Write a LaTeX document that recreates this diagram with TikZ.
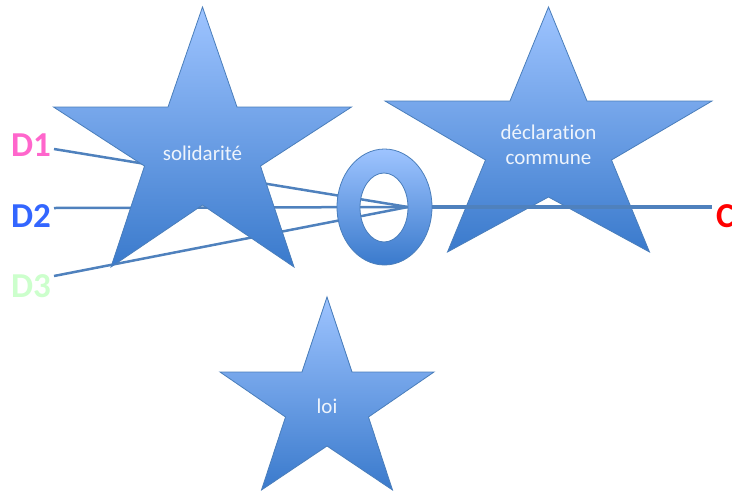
\documentclass[tikz,border=0pt]{standalone}
\usepackage{fontspec}
\setmainfont[Ligatures=NoCommon]{Carlito}
\definecolor{startop}{RGB}{158,196,255}
\definecolor{starbot}{RGB}{58,122,204}
\definecolor{starline}{RGB}{74,126,187}
\definecolor{conn}{RGB}{79,129,189}
\definecolor{startext}{RGB}{238,244,252}
\definecolor{dpink}{RGB}{255,102,204}
\definecolor{dblue}{RGB}{51,102,255}
\definecolor{dgreen}{RGB}{204,255,204}
\begin{document}
\begin{tikzpicture}[x=1pt,y=-1pt,
  starshape/.style={top color=startop,bottom color=starbot,draw=starline,line width=0.8pt,line join=miter},
  startxt/.style={text=startext,font=\fontsize{21}{25}\selectfont,align=center,inner sep=0pt},
  lbl/.style={font=\fontsize{35}{35}\selectfont\bfseries,anchor=base west,inner sep=0pt},
  dline/.style={draw=conn,line width=2.5pt},
  cline/.style={draw=conn,line width=3.8pt}]
\useasboundingbox (0,0) rectangle (732,491);
% labels
\node[lbl,text=dpink] (D1) at (11,156) {D1};
\node[lbl,text=dblue] (D2) at (11,227) {D2};
\node[lbl,text=dgreen] (D3) at (11,297) {D3};
\node[lbl,text=red] (C) at (716,227) {C};
% connector end points
\coordinate (d1s) at (54,149);
\coordinate (d2s) at (54,208);
\coordinate (d3s) at (54,276);
\coordinate (hub) at (408,207);
\coordinate (ce) at (712,207);
% D connectors (behind the first star)
\draw[dline] (d1s) -- (hub);
\draw[dline] (d2s) -- (hub);
\draw[dline] (d3s) -- (hub);
% star 1
\shade[starshape] (202.5,7) -- (237,107) -- (351.5,107) -- (260.5,166) -- (294,267)
  -- (202.5,205) -- (111,267) -- (144.5,166) -- (53.5,107) -- (168,107) -- cycle;
\node[startxt] (s1) at (202.5,153) {solidarité};
% star 2
\shade[starshape] (548.5,7) -- (587,101) -- (712,101) -- (611.5,160) -- (649.5,252)
  -- (548.5,197) -- (447.5,252) -- (485.5,160) -- (385,101) -- (510,101) -- cycle;
\node[startxt] (s2) at (548.5,145) {déclaration\\commune};
% C connector
\draw[cline] (hub) -- (ce);
% ring
\shade[starshape,even odd rule] (384.5,207) ellipse [x radius=47.5pt, y radius=58pt]
  (384,207.5) ellipse [x radius=24pt, y radius=34.5pt];
% star 3
\shade[starshape] (327,297) -- (352,372) -- (434,372) -- (368.5,417) -- (392.5,490)
  -- (327,446) -- (261.5,490) -- (285.5,417) -- (220,372) -- (302,372) -- cycle;
\node[startxt] (s3) at (327,406) {loi};
\end{tikzpicture}
\end{document}
